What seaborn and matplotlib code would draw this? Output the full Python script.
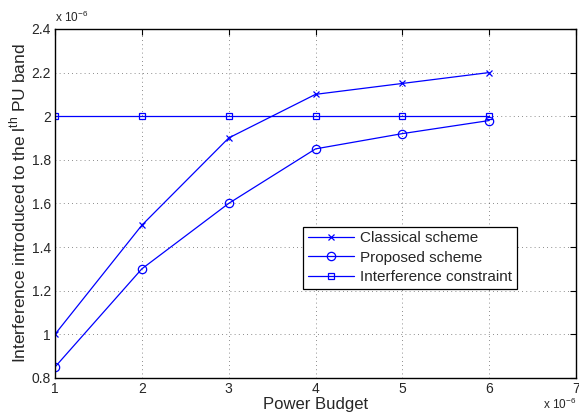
import numpy as np
import pandas as pd
import matplotlib
matplotlib.use("Agg")
import matplotlib.pyplot as plt
import seaborn as sns

# data (both axes in units of 1e-6)
power_budget = [1, 2, 3, 4, 5, 6]
classical = [1.0, 1.5, 1.9, 2.1, 2.15, 2.2]
proposed = [0.85, 1.3, 1.6, 1.85, 1.92, 1.98]
constraint = [2.0, 2.0, 2.0, 2.0, 2.0, 2.0]

series_names = ["Classical scheme", "Proposed scheme", "Interference constraint"]
series_markers = ["x", "o", "s"]
series_sizes = [4.5, 6, 5]

sns.set_style("white")
plt.rcParams['font.family'] = ['Liberation Sans', 'DejaVu Sans']
plt.rcParams['mathtext.fontset'] = 'custom'
plt.rcParams['mathtext.rm'] = 'Liberation Sans'

fig = plt.figure(figsize=(5.79, 4.13), dpi=100)
ax = fig.add_axes([0.095, 0.085, 0.9, 0.845])

for name, vals, mk, ms in zip(series_names, [classical, proposed, constraint], series_markers, series_sizes):
    df = pd.DataFrame({"x": power_budget, "y": vals})
    sns.lineplot(data=df, x="x", y="y", ax=ax, color="blue", marker=mk,
                 markersize=ms, markerfacecolor="none", markeredgecolor="blue",
                 markeredgewidth=0.9, linewidth=0.9, label=name)

ax.set_xlim(1, 7)
ax.set_ylim(0.8, 2.4)
ax.set_xticks([1, 2, 3, 4, 5, 6, 7])
ax.set_yticks([0.8, 1, 1.2, 1.4, 1.6, 1.8, 2, 2.2, 2.4])
ax.set_yticklabels(["0.8", "1", "1.2", "1.4", "1.6", "1.8", "2", "2.2", "2.4"])
ax.tick_params(direction="in", top=True, right=True, labelsize=10, length=4, color="black", pad=3)
ax.grid(True, linestyle=(0, (1, 4)), color="black", linewidth=0.6, alpha=0.6)
for s in ax.spines.values():
    s.set_color("black")
    s.set_linewidth(1.0)

ax.set_xlabel("Power Budget", fontsize=12, labelpad=1)
ax.set_ylabel("Interference introduced to the l$^{\\rm th}$ PU band", fontsize=12.5, labelpad=2)

ax.text(0.0, 1.01, "x 10$^{-6}$", transform=ax.transAxes, fontsize=8.5, ha="left", va="bottom")
ax.text(1.0, -0.055, "x 10$^{-6}$", transform=ax.transAxes, fontsize=8.5, ha="right", va="top")

leg = ax.legend(loc="upper left", bbox_to_anchor=(0.462, 0.455), fontsize=11,
                frameon=True, fancybox=False, edgecolor="black", framealpha=1,
                borderpad=0.3, labelspacing=0.35, handlelength=3.0, handletextpad=0.4)
leg.get_frame().set_linewidth(0.9)

fig.savefig("out.png", dpi=100)
